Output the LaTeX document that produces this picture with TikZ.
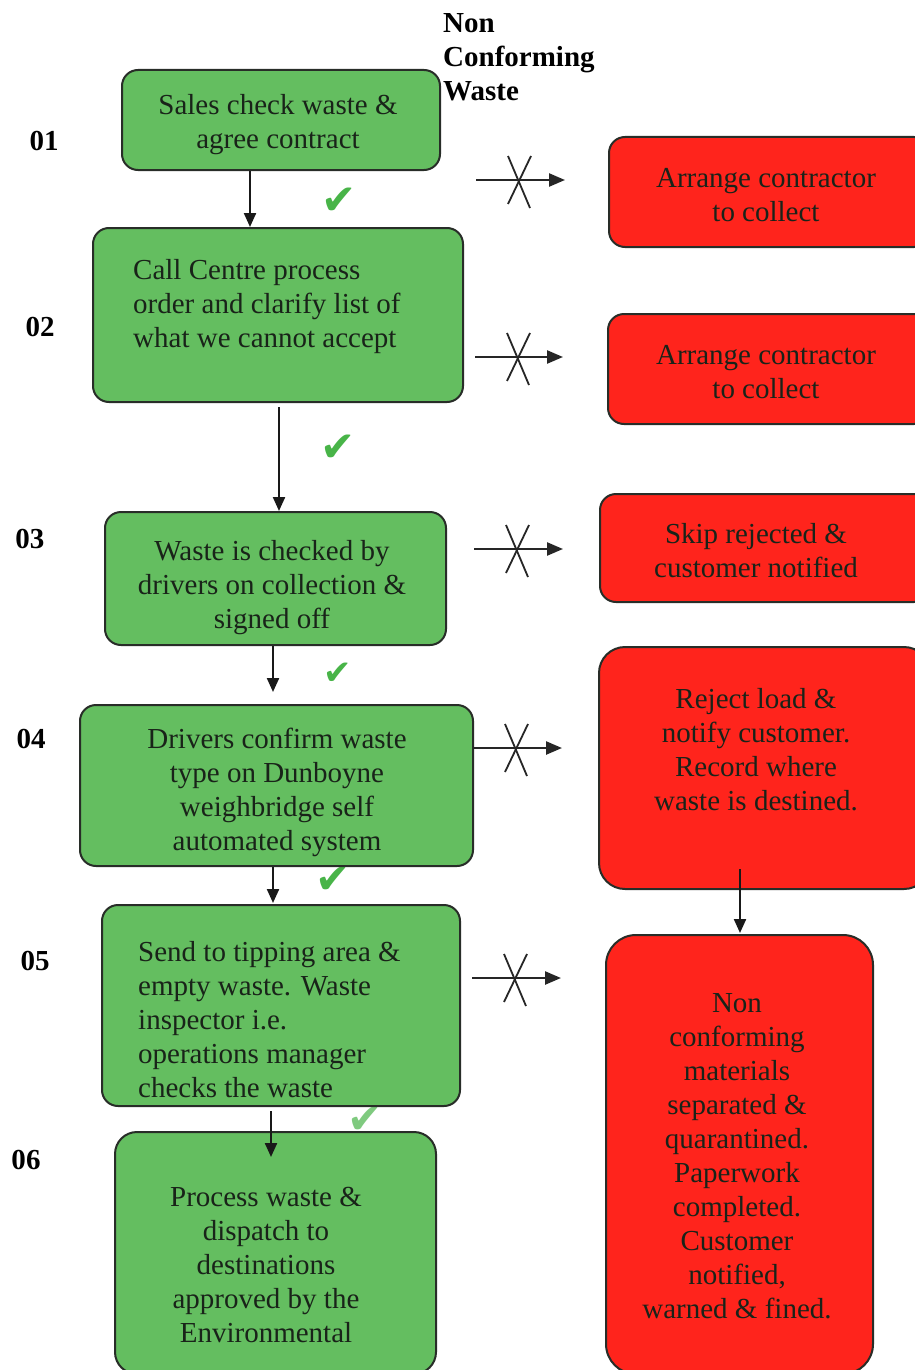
\documentclass[tikz,border=0pt]{standalone}
\usepackage{fontspec}
\setmainfont{Liberation Serif}
\newfontfamily\symfont{DejaVu Sans}
\usetikzlibrary{arrows.meta}
\definecolor{gfill}{RGB}{100,190,96}
\definecolor{rfill}{RGB}{255,36,28}
\definecolor{bord}{RGB}{40,45,40}
\definecolor{tcol}{RGB}{25,35,25}
\definecolor{ckcol}{RGB}{72,180,72}
\tikzset{
  gbox/.style={draw=bord, line width=2pt, fill=gfill, rounded corners=16pt, inner sep=0pt},
  rbox/.style={draw=bord, line width=2pt, fill=rfill, rounded corners=16pt, inner sep=0pt},
  txt/.style={font=\fontsize{29}{34}\selectfont, text=tcol, align=center, inner sep=0pt},
  ltxt/.style={txt, align=left, anchor=west},
  num/.style={font=\fontsize{29}{34}\selectfont\bfseries, inner sep=0pt},
  ck/.style={font=\symfont\fontsize{42}{42}\selectfont, text=ckcol, inner sep=0pt},
  arr/.style={draw=black!90, line width=2.2pt, -{Triangle[length=14pt,width=12pt]}},
  harr/.style={draw=black!85, line width=2.4pt, -{Triangle[length=16pt,width=13pt]}},
  xmark/.style={draw=black!85, line width=1.8pt}
}
\begin{document}
\begin{tikzpicture}[x=1pt,y=-1pt]
\useasboundingbox (0,0) rectangle (915,1370);
\clip (0,0) rectangle (915,1370);
\fill[white] (0,0) rectangle (915,1370);

% check marks
\node[ck] (c1) at (339,201) {✔};
\node[ck] (c2) at (338,448) {✔};
\node[ck, font=\symfont\fontsize{34}{34}\selectfont] (c3) at (338,674) {✔};
\node[ck] (c4) at (333,880) {✔};
\node[ck, text=ckcol!70] (c5) at (365,1120) {✔};

% green boxes
\node[gbox, minimum width=318pt, minimum height=100pt] (g1) at (281,120) {};
\node[gbox, minimum width=370pt, minimum height=174pt] (g2) at (278,315) {};
\node[gbox, minimum width=341pt, minimum height=133pt] (g3) at (275.5,578.5) {};
\node[gbox, minimum width=393pt, minimum height=161pt] (g4) at (276.5,785.5) {};
\node[gbox, minimum width=358pt, minimum height=201pt] (g5) at (281,1005.5) {};
\node[gbox, minimum width=321pt, minimum height=242pt, rounded corners=22pt] (g6) at (275.5,1253) {};

% red boxes
\node[rbox, minimum width=321pt, minimum height=110pt] (r1) at (769.5,192) {};
\node[rbox, minimum width=322pt, minimum height=110pt] (r2) at (769,369) {};
\node[rbox, minimum width=330pt, minimum height=108pt] (r3) at (765,548) {};
\node[rbox, minimum width=331pt, minimum height=242pt, rounded corners=26pt] (r4) at (764.5,768) {};
\node[rbox, minimum width=267pt, minimum height=439pt, rounded corners=30pt] (r5) at (739.5,1154.5) {};

% texts
\node[txt] (t1) at (278,125) {Sales check waste \&\\agree contract};
\node[ltxt] (t2) at (133,307) {Call Centre process\\order and clarify list of\\what we cannot accept};
\node[txt] (t3) at (272,588) {Waste is checked by\\drivers on collection \&\\signed off};
\node[txt] (t4) at (277,792) {Drivers confirm waste\\type on Dunboyne\\weighbridge self\\automated system};
\node[ltxt] (t5) at (138,1020) {Send to tipping area \&\\empty waste. Waste\\inspector i.e.\\operations manager\\checks the waste};
\node[txt] (t6) at (266,1265) {Process waste \&\\dispatch to\\destinations\\approved by the\\Environmental};
\node[txt] (s1) at (766,195) {Arrange contractor\\to collect};
\node[txt] (s2) at (766,372) {Arrange contractor\\to collect};
\node[txt] (s3) at (756,551) {Skip rejected \&\\customer notified};
\node[txt] (s4) at (756,749.5) {Reject load \&\\notify customer.\\Record where\\waste is destined.};
\node[txt] (s5) at (737,1156.5) {Non\\conforming\\materials\\separated \&\\quarantined.\\Paperwork\\completed.\\Customer\\notified,\\warned \& fined.};

% header and step numbers
\node[num, align=left, anchor=west] (hdr) at (443,57) {Non\\Conforming\\Waste};
\node[num] (n1) at (44,141) {01};
\node[num] (n2) at (40,327) {02};
\node[num] (n3) at (30,539) {03};
\node[num] (n4) at (31,739) {04};
\node[num] (n5) at (35,961) {05};
\node[num] (n6) at (26,1160) {06};

% vertical flow arrows
\draw[arr] ([xshift=-31pt]g1.south) -- ([xshift=-31pt]g1.south |- g2.north);
\draw[arr] ([xshift=1pt,yshift=-4pt]g2.south) -- ([xshift=3.5pt]g3.north);
\draw[arr] ([xshift=-2.5pt]g3.south) -- ([xshift=-3.5pt,yshift=12pt]g4.north);
\draw[arr] ([xshift=-3.5pt]g4.south) -- ([xshift=-8pt,yshift=1pt]g5.north);
\draw[arr] ([xshift=-10pt,yshift=-4pt]g5.south) -- ([xshift=-4.5pt,yshift=-26pt]g6.north);
\draw[arr] ([xshift=-24.5pt,yshift=21pt]r4.south) -- ([xshift=0.5pt,yshift=1pt]r5.north);

% rejected (crossed) arrows
\coordinate (a1s) at (476,180); \coordinate (a1e) at (565,180);
\coordinate (a2s) at (475,357); \coordinate (a2e) at (563,357);
\coordinate (a3s) at (474,549); \coordinate (a3e) at (563,549);
\coordinate (a4s) at (473,748); \coordinate (a4e) at (562,748);
\coordinate (a5s) at (472,978); \coordinate (a5e) at (561,978);
\draw[harr] (a1s) -- (a1e);
\draw[harr] (a2s) -- (a2e);
\draw[harr] (a3s) -- (a3e);
\draw[harr] (a4s) -- (a4e);
\draw[harr] (a5s) -- (a5e);
\foreach \cx/\cy in {519/180, 518/357, 517/549, 516/748, 515/978} {
  \draw[xmark] (\cx-11,\cy-24) -- (\cx+11,\cy+28);
  \draw[xmark] (\cx+12,\cy-24) -- (\cx-11,\cy+24);
}
\end{tikzpicture}
\end{document}
